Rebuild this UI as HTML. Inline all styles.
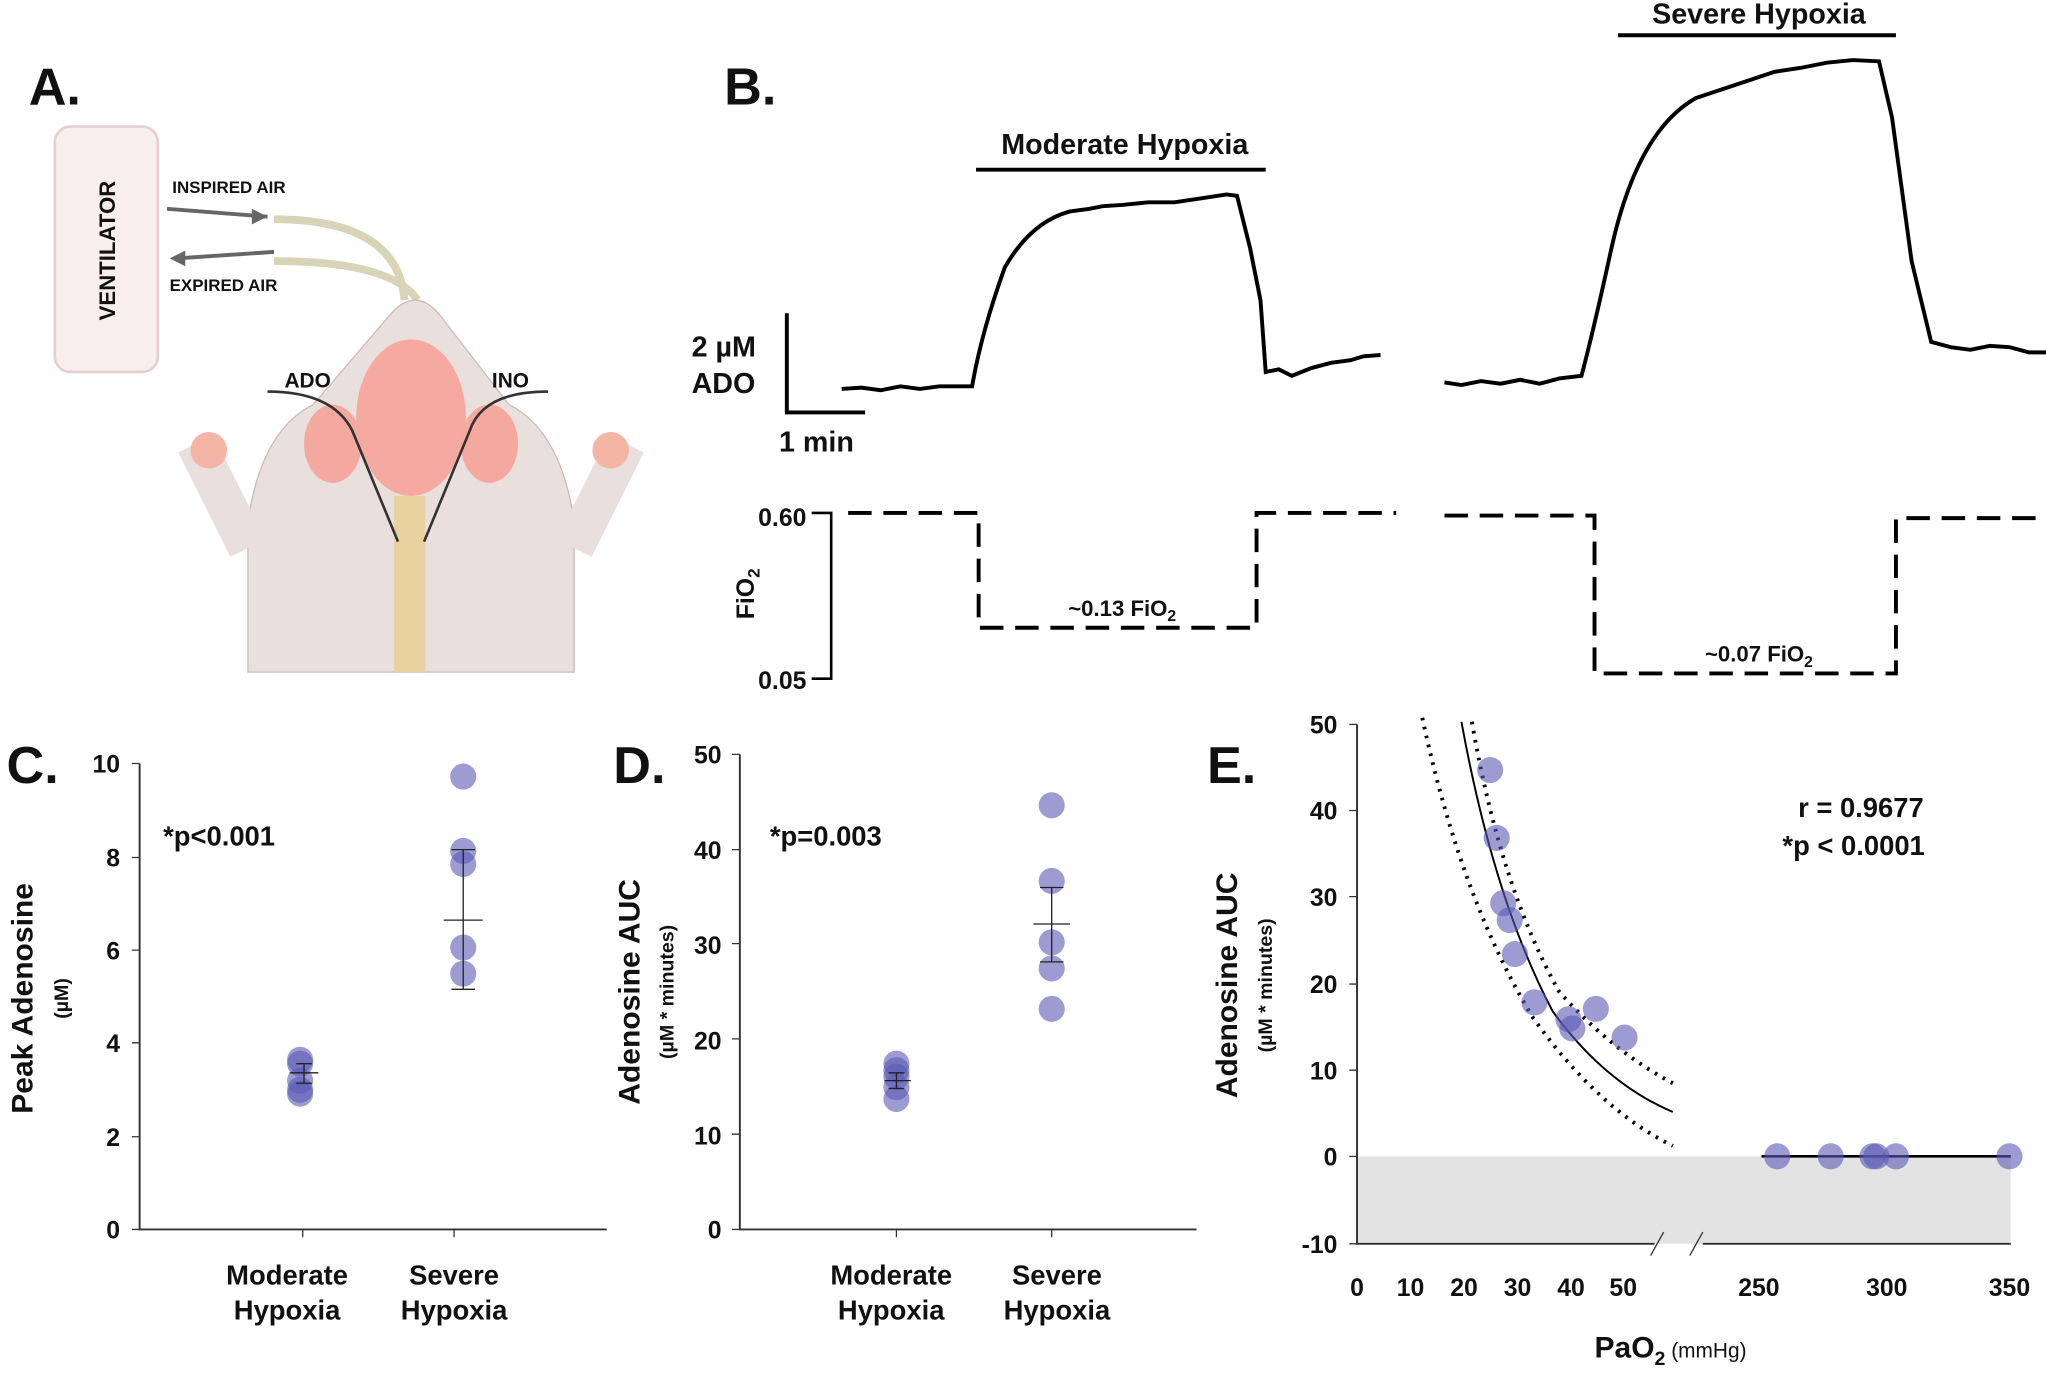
<!DOCTYPE html>
<html><head><meta charset="utf-8"><style>html,body{margin:0;padding:0;background:#fff}svg{display:block}text{font-family:"Liberation Sans",sans-serif;font-weight:bold;fill:#111}</style></head><body>
<svg width="2046" height="1373" viewBox="0 0 1568 1052" preserveAspectRatio="none" xmlns="http://www.w3.org/2000/svg">
<!-- Panel A -->
<text x="22" y="80" font-size="40">A.</text>
<rect x="42" y="97" width="79" height="188" rx="12" fill="#f8eeee" stroke="#e5cfcf" stroke-width="2"/>
<text transform="translate(88,192) rotate(-90)" font-size="17" text-anchor="middle" font-weight="normal" fill="#333">VENTILATOR</text>
<text x="132" y="148" font-size="13" fill="#444">INSPIRED AIR</text>
<text x="130" y="223" font-size="13" fill="#444">EXPIRED AIR</text>
<path d="M128 160 L205 166" stroke="#666" stroke-width="3" fill="none"/><path d="M205 166 l-12 -6 l0 12z" fill="#666"/>
<path d="M210 193 L135 198" stroke="#666" stroke-width="3" fill="none"/><path d="M130 198 l12 -6 l0 12z" fill="#666"/>
<path d="M210 168 Q305 168 310 230 M210 200 Q300 200 320 230" stroke="#d9d4b8" stroke-width="6" fill="none"/>
<path d="M190 515 L190 400 Q200 330 240 310 L300 240 Q318 220 336 240 L390 310 Q430 330 440 400 L440 515Z" fill="#e9dfdc" stroke="#c9bdb8"/>
<path d="M190 420 L150 340 M440 420 L480 340" stroke="#e9dfdc" stroke-width="30"/>
<circle cx="160" cy="345" r="14" fill="#f4b5a5"/><circle cx="468" cy="345" r="14" fill="#f4b5a5"/>
<ellipse cx="315" cy="320" rx="42" ry="60" fill="#f6a9a0"/>
<ellipse cx="255" cy="340" rx="22" ry="30" fill="#f4a89e"/><ellipse cx="375" cy="340" rx="22" ry="30" fill="#f4a89e"/>
<rect x="302" y="380" width="24" height="135" fill="#e8d3a0"/>
<text x="218" y="297" font-size="16">ADO</text><text x="377" y="297" font-size="16">INO</text>
<path d="M205 300 Q255 300 270 330 L305 415 M420 300 Q370 300 360 330 L325 415" stroke="#333" stroke-width="2" fill="none"/>
<!-- Panel B -->
<text x="555" y="80" font-size="40">B.</text>
<text x="862" y="118" font-size="22" text-anchor="middle">Moderate Hypoxia</text>
<line x1="748" y1="130" x2="970" y2="130" stroke="#000" stroke-width="3"/>
<text x="1348" y="18" font-size="22" text-anchor="middle">Severe Hypoxia</text>
<line x1="1240" y1="27" x2="1453" y2="27" stroke="#000" stroke-width="3"/>
<path d="M645 298 L660 297 L675 299 L690 296 L705 298 L720 296 L745 296 Q752 255 770 205 Q790 170 820 162 L835 160 L845 158 L860 157 L880 155 L900 155 L920 152 L940 149 L948 150 L958 190 L966 230 L970 285 L980 283 L990 288 L1005 282 L1020 278 L1035 276 L1045 273 L1058 272" stroke="#000" stroke-width="3" fill="none"/>
<path d="M1107 293 L1120 295 L1135 292 L1150 294 L1165 291 L1180 294 L1195 290 L1212 288 Q1222 250 1235 190 Q1255 100 1300 75 L1330 65 L1360 55 L1380 52 L1400 48 L1420 46 L1440 47 L1450 90 L1465 200 L1480 262 L1495 266 L1510 268 L1525 265 L1540 266 L1555 270 L1568 270" stroke="#000" stroke-width="3" fill="none"/>
<path d="M603 240 L603 316 L663 316" stroke="#000" stroke-width="3" fill="none"/>
<text x="530" y="273" font-size="22">2 µM</text><text x="530" y="301" font-size="22">ADO</text>
<text x="597" y="346" font-size="22">1 min</text>
<path d="M622 393 L637 393 L637 520 L622 520" stroke="#000" stroke-width="2" fill="none"/>
<text x="618" y="403" font-size="19" text-anchor="end">0.60</text>
<text x="618" y="528" font-size="19" text-anchor="end">0.05</text>
<text transform="translate(578,455) rotate(-90)" font-size="19" text-anchor="middle">FiO<tspan font-size="13" dy="4">2</tspan></text>
<path d="M650 393 L750 393 L750 481 L963 481 L963 393 L1070 393" stroke="#000" stroke-width="3" stroke-dasharray="18 9" fill="none"/>
<path d="M1107 395 L1222 395 L1222 516 L1453 516 L1453 397 L1568 397" stroke="#000" stroke-width="3" stroke-dasharray="18 9" fill="none"/>
<text x="860" y="472" font-size="17" text-anchor="middle">~0.13 FiO<tspan font-size="12" dy="4">2</tspan></text>
<text x="1348" y="507" font-size="17" text-anchor="middle">~0.07 FiO<tspan font-size="12" dy="4">2</tspan></text>
<!-- Panel C -->
<text x="5" y="600" font-size="40">C.</text>
<path d="M107 585 L107 942 L465 942" stroke="#333" stroke-width="1.5" fill="none"/>
<g font-size="19" text-anchor="end">
<text x="92" y="949">0</text><text x="92" y="878">2</text><text x="92" y="806">4</text><text x="92" y="735">6</text><text x="92" y="664">8</text><text x="92" y="592">10</text></g>
<path d="M101 942h6M101 871h6M101 799h6M101 728h6M101 657h6M101 585h6M232 942v6M348 942v6" stroke="#333"/>
<text transform="translate(25,765) rotate(-90)" font-size="23" text-anchor="middle">Peak Adenosine</text>
<text transform="translate(52,765) rotate(-90)" font-size="15" text-anchor="middle" font-weight="normal">(µM)</text>
<text x="125" y="648" font-size="21">*p&lt;0.001</text>
<g font-size="21" text-anchor="middle"><text x="220" y="984">Moderate</text><text x="220" y="1011">Hypoxia</text><text x="348" y="984">Severe</text><text x="348" y="1011">Hypoxia</text></g>
<g fill="#5a5ab5" fill-opacity="0.6">
<circle cx="230" cy="835" r="10"/><circle cx="230" cy="815" r="10"/><circle cx="230" cy="828" r="10"/><circle cx="230" cy="838" r="10"/><circle cx="230" cy="812" r="10"/>
<circle cx="355" cy="595" r="10"/><circle cx="355" cy="652" r="10"/><circle cx="355" cy="662" r="10"/><circle cx="355" cy="726" r="10"/><circle cx="355" cy="746" r="10"/></g>
<path d="M222 822h22M227 815h12M227 830h12M233 815v15M340 705h30M346 651h18M346 758h18M355 651v107" stroke="#222" stroke-width="1"/>
<!-- Panel D -->
<text x="470" y="600" font-size="40">D.</text>
<path d="M567 578 L567 942 L917 942" stroke="#333" stroke-width="1.5" fill="none"/>
<g font-size="19" text-anchor="end">
<text x="553" y="949">0</text><text x="553" y="877">10</text><text x="553" y="804">20</text><text x="553" y="731">30</text><text x="553" y="658">40</text><text x="553" y="585">50</text></g>
<path d="M561 942h6M561 869h6M561 796h6M561 723h6M561 651h6M561 578h6M687 942v6M806 942v6" stroke="#333"/>
<text transform="translate(490,760) rotate(-90)" font-size="23" text-anchor="middle">Adenosine AUC</text>
<text transform="translate(516,760) rotate(-90)" font-size="15" text-anchor="middle" font-weight="normal">(µM * minutes)</text>
<text x="590" y="648" font-size="21">*p=0.003</text>
<g font-size="21" text-anchor="middle"><text x="683" y="984">Moderate</text><text x="683" y="1011">Hypoxia</text><text x="810" y="984">Severe</text><text x="810" y="1011">Hypoxia</text></g>
<g fill="#5a5ab5" fill-opacity="0.6">
<circle cx="687" cy="815" r="10"/><circle cx="687" cy="825" r="10"/><circle cx="687" cy="833" r="10"/><circle cx="687" cy="842" r="10"/><circle cx="687" cy="820" r="10"/>
<circle cx="806" cy="617" r="10"/><circle cx="806" cy="675" r="10"/><circle cx="806" cy="722" r="10"/><circle cx="806" cy="742" r="10"/><circle cx="806" cy="773" r="10"/></g>
<path d="M678 828h20M681 822h12M681 834h12M687 822v12M792 708h28M797 680h18M797 737h18M806 680v57" stroke="#222" stroke-width="1"/>
<!-- Panel E -->
<text x="925" y="600" font-size="40">E.</text>
<rect x="1041" y="886" width="500" height="67" fill="#e3e3e3"/>
<path d="M1040 555 L1040 953 L1268 953 M1305 953 L1541 953" stroke="#333" stroke-width="1.5" fill="none"/>
<path d="M1265 962 L1275 944 M1295 962 L1305 944" stroke="#333"/>
<g font-size="19" text-anchor="end">
<text x="1025" y="960">-10</text><text x="1025" y="893">0</text><text x="1025" y="827">10</text><text x="1025" y="761">20</text><text x="1025" y="694">30</text><text x="1025" y="628">40</text><text x="1025" y="562">50</text></g>
<path d="M1034 953h6M1034 886h6M1034 820h6M1034 754h6M1034 687h6M1034 621h6M1034 555h6" stroke="#333"/>
<g font-size="19" text-anchor="middle">
<text x="1040" y="993">0</text><text x="1081" y="993">10</text><text x="1122" y="993">20</text><text x="1163" y="993">30</text><text x="1204" y="993">40</text><text x="1244" y="993">50</text><text x="1348" y="993">250</text><text x="1446" y="993">300</text><text x="1540" y="993">350</text></g>
<text x="1222" y="1040" font-size="23">PaO<tspan font-size="15" dy="6">2</tspan><tspan dy="-6" font-size="16" font-weight="normal"> (mmHg)</tspan></text>
<text transform="translate(948,755) rotate(-90)" font-size="23" text-anchor="middle">Adenosine AUC</text>
<text transform="translate(975,755) rotate(-90)" font-size="15" text-anchor="middle" font-weight="normal">(µM * minutes)</text>
<text x="1378" y="626" font-size="21">r = 0.9677</text>
<text x="1366" y="655" font-size="21">*p &lt; 0.0001</text>
<path d="M1120 553 Q1145 690 1190 775 Q1230 830 1282 852" stroke="#000" stroke-width="1.5" fill="none"/>
<path d="M1128 553 Q1150 680 1195 760 Q1235 805 1282 830" stroke="#000" stroke-width="3" stroke-dasharray="2 5" fill="none"/>
<path d="M1090 550 Q1120 690 1175 780 Q1225 850 1282 878" stroke="#000" stroke-width="3" stroke-dasharray="2 5" fill="none"/>
<line x1="1350" y1="886" x2="1541" y2="886" stroke="#000" stroke-width="2"/>
<g fill="#5a5ab5" fill-opacity="0.6">
<circle cx="1142" cy="590" r="10"/><circle cx="1147" cy="642" r="10"/><circle cx="1152" cy="692" r="10"/><circle cx="1157" cy="705" r="10"/><circle cx="1161" cy="731" r="10"/><circle cx="1176" cy="768" r="10"/><circle cx="1202" cy="781" r="10"/><circle cx="1223" cy="773" r="10"/><circle cx="1245" cy="795" r="10"/><circle cx="1205" cy="788" r="10"/>
<circle cx="1362" cy="886" r="10"/><circle cx="1403" cy="886" r="10"/><circle cx="1435" cy="886" r="10"/><circle cx="1438" cy="886" r="10"/><circle cx="1453" cy="886" r="10"/><circle cx="1540" cy="886" r="10"/></g>
</svg>
</body></html>
